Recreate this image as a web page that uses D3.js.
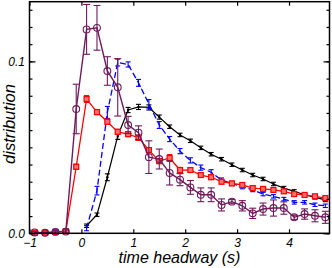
<!DOCTYPE html>
<html>
<head>
<meta charset="utf-8">
<script src="https://cdn.jsdelivr.net/npm/d3@7"></script>
<style>
  body { margin: 0; background: #fff; }
  svg text { font-family: "Liberation Sans", Arial, sans-serif; font-style: italic; }
</style>
</head>
<body>
<div id="chart"></div>
<script>
// time headway bins (s)
let xsAll = [-0.9, -0.7, -0.5, -0.3, -0.1, 0.1, 0.3, 0.5, 0.7, 0.9, 1.1, 1.3, 1.5, 1.7, 1.9, 2.1,
    2.3, 2.5, 2.7, 2.9, 3.1, 3.3, 3.5, 3.7, 3.9, 4.1, 4.3, 4.5, 4.7];
let xsPos = xsAll.slice(5);

let purpleY = [0.0005, 0.0003, 0.0008, 0.001, 0.0723, 0.1186, 0.1195, 0.0944, 0.0849, 0.063, 0.0585,
    0.0443, 0.0432, 0.0351, 0.0312, 0.0267, 0.0224, 0.0224, 0.0165, 0.0184, 0.016, 0.0116, 0.0141,
    0.0147, 0.0147, 0.0093, 0.0112, 0.0102, 0.0093];
let purpleErr = [0.0005, 0.0005, 0.0008, 0.001, 0.0144, 0.0145, 0.013, 0.0083, 0.0167, 0.005, 0.004,
    0.0095, 0.0058, 0.007, 0.0035, 0.004, 0.004, 0.004, 0.0035, 0.0012, 0.003, 0.003, 0.0035,
    0.0047, 0.0036, 0.0012, 0.003, 0.0035, 0.0035];

let redY = [0.0003, 0.0003, 0.0008, 0.0012, 0.0387, 0.0781, 0.0705, 0.0649, 0.059, 0.0577, 0.0556,
    0.0484, 0.042, 0.0438, 0.0368, 0.0368, 0.0339, 0.0326, 0.03, 0.029, 0.0281, 0.0263, 0.0258,
    0.0252, 0.0244, 0.0228, 0.0223, 0.0215, 0.0205];
let redErr = [0.0005, 0.0005, 0.0005, 0.0005, 0.0015, 0.002, 0.0015, 0.0015, 0.0015, 0.0015, 0.0015,
    0.0015, 0.0015, 0.002, 0.0015, 0.0012, 0.0012, 0.0012, 0.0012, 0.0012, 0.0012, 0.001, 0.001,
    0.001, 0.001, 0.001, 0.001, 0.001, 0.001];

let blueY = [0.003, 0.0248, 0.0703, 0.0993, 0.0982, 0.0875, 0.0753, 0.063, 0.0548, 0.0478, 0.0424,
    0.0382, 0.0355, 0.031, 0.029, 0.0271, 0.0252, 0.0228, 0.0215, 0.0199, 0.018, 0.018, 0.0166, 0.016];
let blueErr = [0.0015, 0.0025, 0.0035, 0.002, 0.0015, 0.002, 0.0025, 0.002, 0.0015, 0.0015, 0.0015,
    0.0015, 0.0015, 0.0012, 0.0012, 0.0012, 0.001, 0.001, 0.001, 0.001, 0.001, 0.001, 0.001, 0.001];

let blackY = [0.0044, 0.0108, 0.0326, 0.0566, 0.0717, 0.0735, 0.0732, 0.0676, 0.062, 0.0572, 0.0538,
    0.0497, 0.046, 0.0431, 0.0399, 0.0368, 0.0339, 0.0316, 0.0287, 0.0263, 0.0244, 0.0224, 0.0209, 0.0194];
let blackErr = [0.001, 0.001, 0.002, 0.002, 0.0015, 0.0015, 0.0015, 0.0012, 0.001, 0.001, 0.001,
    0.001, 0.001, 0.001, 0.001, 0.001, 0.001, 0.001, 0.001, 0.001, 0.001, 0.001, 0.001, 0.001];

let xMajor = [-1, 0, 1, 2, 3, 4];
let yMajor = [0, 0.1];
let yMinor = d3.range(0, 0.135, 0.01);

let width = 332, height = 268;
let margin = {top: 1.7, right: 2.5, bottom: 34.7, left: 29.5};

let svg = d3.select("#chart").append("svg")
    .attr("width", width)
    .attr("height", height);

let x = d3.scaleLinear().domain([-1, 4.78]).range([margin.left, width - margin.right]);
let y = d3.scaleLinear().domain([0, 0.1347]).range([height - margin.bottom, margin.top]);

function zip(xs, ys, es) {
    return xs.map(function(v, i) { return {x: v, y: ys[i], e: es[i]}; });
}

let series = [
    {name: "black", color: "#000000", data: zip(xsPos, blackY, blackErr), dash: null, cap: 2.5, width: 1.2},
    {name: "blue", color: "#0000ff", data: zip(xsPos, blueY, blueErr), dash: "6,3", cap: 2.5, width: 1.3},
    {name: "red", color: "#ff0000", data: zip(xsAll, redY, redErr), dash: null, cap: 2.5, width: 1.3},
    {name: "purple", color: "#6e1a5c", data: zip(xsAll, purpleY, purpleErr), dash: null, cap: 3.5, width: 1.4}
];

let line = d3.line().x(d => x(d.x)).y(d => y(d.y));

series.forEach(function(s) {
    let g = svg.append("g").attr("class", s.name);

    g.append("path")
        .datum(s.data)
        .attr("d", line)
        .attr("fill", "none")
        .attr("stroke", s.color)
        .attr("stroke-width", s.width)
        .attr("stroke-dasharray", s.dash);

    // error bars
    let eb = g.selectAll(".err").data(s.data).enter().append("g").attr("class", "err")
        .attr("stroke", s.color).attr("stroke-width", 1.1);
    eb.append("line")
        .attr("x1", d => x(d.x)).attr("x2", d => x(d.x))
        .attr("y1", d => y(d.y - d.e)).attr("y2", d => y(d.y + d.e));
    eb.append("line")
        .attr("x1", d => x(d.x) - s.cap).attr("x2", d => x(d.x) + s.cap)
        .attr("y1", d => y(d.y + d.e)).attr("y2", d => y(d.y + d.e));
    eb.append("line")
        .attr("x1", d => x(d.x) - s.cap).attr("x2", d => x(d.x) + s.cap)
        .attr("y1", d => y(d.y - d.e)).attr("y2", d => y(d.y - d.e));

    if (s.name == "purple") {
        g.selectAll("circle").data(s.data).enter().append("circle")
            .attr("cx", d => x(d.x)).attr("cy", d => y(d.y)).attr("r", 3.4)
            .attr("fill", "none").attr("stroke", s.color).attr("stroke-width", 1.1);
    }
    if (s.name == "red") {
        g.selectAll("rect").data(s.data).enter().append("rect")
            .attr("x", d => x(d.x) - 2.5).attr("y", d => y(d.y) - 2.5)
            .attr("width", 5).attr("height", 5)
            .attr("fill", "#ff7070").attr("stroke", s.color).attr("stroke-width", 1.2);
    }
    if (s.name == "black") {
        g.selectAll("circle").data(s.data).enter().append("circle")
            .attr("cx", d => x(d.x)).attr("cy", d => y(d.y)).attr("r", 1.2)
            .attr("fill", s.color);
    }
});

// axes: ticks point inward
let axBottom = svg.append("g").attr("transform", "translate(0," + (height - margin.bottom) + ")")
    .call(d3.axisBottom(x).tickValues(xMajor).tickSize(-4).tickPadding(5).tickFormat(d3.format("d")));
let axTop = svg.append("g").attr("transform", "translate(0," + margin.top + ")")
    .call(d3.axisTop(x).tickValues(xMajor).tickSize(-4).tickFormat(""));
let axLeftMinor = svg.append("g").attr("transform", "translate(" + margin.left + ",0)")
    .call(d3.axisLeft(y).tickValues(yMinor).tickSize(-3).tickFormat(""));
let axLeft = svg.append("g").attr("transform", "translate(" + margin.left + ",0)")
    .call(d3.axisLeft(y).tickValues(yMajor).tickSize(-6).tickPadding(4.5).tickFormat(d3.format(".1f")));
let axRightMinor = svg.append("g").attr("transform", "translate(" + (width - margin.right) + ",0)")
    .call(d3.axisRight(y).tickValues(yMinor).tickSize(-3).tickFormat(""));
let axRight = svg.append("g").attr("transform", "translate(" + (width - margin.right) + ",0)")
    .call(d3.axisRight(y).tickValues(yMajor).tickSize(-6).tickFormat(""));

[axBottom, axTop, axLeftMinor, axLeft, axRightMinor, axRight].forEach(function(a) {
    a.select(".domain").remove();
    a.selectAll("line").attr("stroke", "#000").attr("stroke-width", 1.2);
    a.selectAll("text").attr("fill", "#000").style("font-size", "12px");
});

// frame
svg.append("rect")
    .attr("x", margin.left).attr("y", margin.top)
    .attr("width", width - margin.left - margin.right)
    .attr("height", height - margin.top - margin.bottom)
    .attr("fill", "none").attr("stroke", "#000").attr("stroke-width", 1.5);

// axis titles
svg.append("text")
    .attr("x", (margin.left + width - margin.right) / 2)
    .attr("y", 263)
    .attr("text-anchor", "middle")
    .style("font-size", "16px")
    .text("time headway (s)");

svg.append("text")
    .attr("transform", "translate(15," + 124 + ") rotate(-90)")
    .attr("text-anchor", "middle")
    .style("font-size", "16.5px")
    .text("distribution");
</script>
</body>
</html>
